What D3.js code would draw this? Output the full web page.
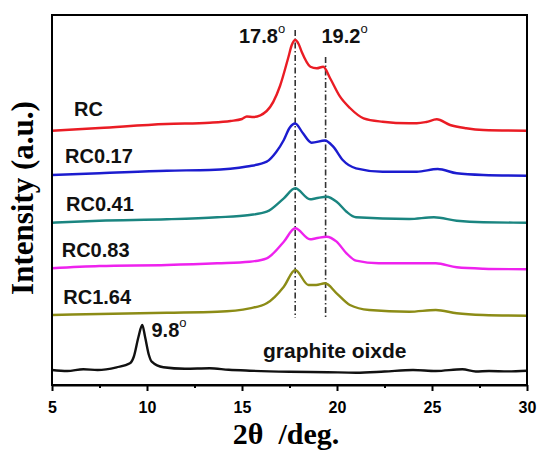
<!DOCTYPE html>
<html>
<head>
<meta charset="utf-8">
<script src="https://cdn.jsdelivr.net/npm/d3@7"></script>
<style>
  body { margin: 0; background: #fff; }
  text { font-family: Arial, "Liberation Sans", sans-serif; font-weight: bold; }
</style>
</head>
<body>
<div id="chart"></div>
<script>
// 2theta sample positions and intensities (a.u.)
const rcTheta = [5, 7.5, 11, 13.3, 14.4, 15, 15.25, 15.6, 16.3, 17, 17.43, 17.62, 17.8, 17.98, 18.14, 18.6, 18.93, 19.28, 19.63, 20.16, 20.68, 21.4, 22.4, 23.8, 24.2, 24.7, 25.25, 25.95, 26.8, 27.7, 30]
const rcValue = [254.3, 257, 261, 262.3, 264, 266, 268.5, 268, 274, 299, 327, 340, 345, 341, 333.3, 318.3, 316.7, 318.3, 307, 288.3, 277, 266.7, 263.3, 261.7, 261.7, 263, 265.7, 260, 256.7, 255, 254.3]

const rc017Theta = [5, 7.5, 11.05, 13.3, 15.26, 16.3, 16.8, 17.2, 17.5, 17.8, 18.2, 18.66, 19.37, 19.8, 20.3, 21, 22.4, 24.2, 25.3, 26.3, 27.7, 30]
const rc017Value = [210, 211.7, 214.3, 215, 218.5, 223.3, 233, 245, 257, 261.5, 252, 242.3, 244.5, 238.3, 225, 216.7, 213.3, 213.3, 216, 211.7, 210, 209.3]

const rc041Theta = [5, 7.5, 11.05, 13.7, 15.4, 16.3, 17.2, 17.8, 18.58, 18.9, 19.46, 19.98, 20.5, 21, 23.8, 25.1, 26.3, 27.7, 30]
const rc041Value = [162.3, 164.3, 165.7, 167.7, 170, 173.3, 186.7, 196.7, 185.7, 186.7, 188.3, 183.3, 173.3, 167.7, 166, 167.7, 164.3, 162.7, 162.3]

const rc083Theta = [5, 7.5, 11.05, 13.7, 15.4, 16.3, 17.2, 17.8, 18.58, 18.9, 19.46, 19.98, 20.5, 21, 22.2, 25.2, 26.3, 27.7, 30]
const rc083Value = [116.7, 119, 120, 121.7, 123.3, 126.7, 143.3, 156.7, 145.7, 146.7, 148.3, 143.3, 131.7, 124.3, 121.7, 121.7, 117.7, 116.3, 115.7]

const rc164Theta = [5, 7.5, 11.05, 13.7, 15.4, 16.3, 17.2, 17.8, 18.5, 18.9, 19.37, 19.98, 20.68, 21.7, 23.8, 25.2, 26.3, 27.7, 30]
const rc164Value = [70, 71, 72.3, 73.3, 76.7, 81.7, 98.3, 115, 100, 100, 101.7, 91.7, 80, 75, 73.3, 75, 71.7, 70, 69.3]

const goTheta = [5, 5.8, 6.65, 7.4, 8.4, 9.1, 9.3, 9.55, 9.75, 9.9, 10.1, 10.25, 10.86, 12, 13.3, 14.3, 15.4, 17.5, 19.5, 21, 22.5, 24, 25.2, 26.6, 27.3, 28, 29, 30]
const goValue = [15, 14, 15.7, 15, 17.7, 21.7, 28, 48, 60, 48, 30, 23.3, 17.7, 16.2, 16.7, 15.2, 14.3, 13.3, 12.8, 12.3, 13.5, 15, 14, 15.7, 13.5, 14, 13.6, 14.3]

const seriesNames = ['RC', 'RC0.17', 'RC0.41', 'RC0.83', 'RC1.64', 'graphite oixde']
const seriesColors = ['#ea1c24', '#1c1ccf', '#1a8580', '#ee22ee', '#8c8c16', '#111111']
const seriesTheta = [rcTheta, rc017Theta, rc041Theta, rc083Theta, rc164Theta, goTheta]
const seriesValue = [rcValue, rc017Value, rc041Value, rc083Value, rc164Value, goValue]

const xTicks = [5, 10, 15, 20, 25, 30]
const xMinorTicks = [7.5, 12.5, 17.5, 22.5, 27.5]

// peak marker lines: where they are drawn, and how high they reach
const peakLineTheta = [17.8, 19.4]
const peakLineTop = [355, 328]
const peakLineBottom = 67

const width = 541
const height = 451
const margin = {top: 15, right: 14, bottom: 66, left: 52}

const svg = d3.select('#chart').append('svg')
    .attr('width', width)
    .attr('height', height)

svg.append('rect').attr('width', width).attr('height', height).attr('fill', '#fff')

const x = d3.scaleLinear().domain([5, 30]).range([margin.left, width - margin.right])
const y = d3.scaleLinear().domain([0, 370]).range([height - margin.bottom, margin.top])

const line = d3.line()
    .x(d => x(d[0]))
    .y(d => y(d[1]))
    .curve(d3.curveMonotoneX)

// dash-dot peak lines
peakLineTheta.forEach((t, i) => {
    svg.append('line')
        .attr('x1', x(t)).attr('x2', x(t))
        .attr('y1', y(peakLineTop[i])).attr('y2', y(peakLineBottom))
        .attr('stroke', '#333')
        .attr('stroke-width', 1.6)
        .attr('stroke-dasharray', '6,2.5,1.5,2.5')
})

// curves
seriesNames.forEach((name, i) => {
    const pts = seriesTheta[i].map((t, j) => [t, seriesValue[i][j]])
    svg.append('path')
        .datum(pts)
        .attr('d', line)
        .attr('fill', 'none')
        .attr('stroke', seriesColors[i])
        .attr('stroke-width', 2.4)
        .attr('stroke-linejoin', 'round')
})

// frame
svg.append('rect')
    .attr('x', margin.left).attr('y', margin.top)
    .attr('width', width - margin.right - margin.left)
    .attr('height', height - margin.bottom - margin.top)
    .attr('fill', 'none')
    .attr('stroke', '#000')
    .attr('stroke-width', 2)

// x axis
const xAxis = svg.append('g')
    .attr('transform', `translate(0, ${height - margin.bottom})`)
    .call(d3.axisBottom(x).tickValues(xTicks).tickSize(6).tickPadding(11).tickSizeOuter(0))
xAxis.select('.domain').attr('stroke-width', 2)
xAxis.selectAll('.tick line').attr('stroke-width', 2)
xAxis.selectAll('.tick text').attr('font-size', 16).attr('font-weight', 'bold')
    .attr('font-family', 'Arial, "Liberation Sans", sans-serif').attr('fill', '#000')

svg.append('g')
    .attr('transform', `translate(0, ${height - margin.bottom})`)
    .call(d3.axisBottom(x).tickValues(xMinorTicks).tickSize(3).tickFormat(''))
    .call(g => g.select('.domain').remove())
    .selectAll('.tick line').attr('stroke-width', 2)

// axis titles
svg.append('text')
    .attr('x', 286).attr('y', 444)
    .attr('text-anchor', 'middle')
    .attr('xml:space', 'preserve')
    .style('font-family', '"Times New Roman", "Liberation Serif", serif')
    .attr('font-size', 30)
    .text('2θ  /deg.')

svg.append('text')
    .attr('transform', 'translate(33, 198) rotate(-90)')
    .attr('text-anchor', 'middle')
    .style('font-family', '"Times New Roman", "Liberation Serif", serif')
    .attr('font-size', 31)
    .text('Intensity (a.u.)')

// series labels
const labelPos = [[74, 116], [65, 162.7], [66, 210.7], [61.7, 257.3], [63.3, 304], [263, 358]]
seriesNames.forEach((name, i) => {
    svg.append('text')
        .attr('x', labelPos[i][0]).attr('y', labelPos[i][1])
        .attr('font-size', i === 5 ? 21 : 20)
        .attr('fill', '#111')
        .text(name)
})

// peak labels with degree marks
function degLabel (px, py, txt) {
    const t = svg.append('text').attr('x', px).attr('y', py).attr('font-size', 20).attr('fill', '#111')
    t.append('tspan').text(txt)
    t.append('tspan').attr('dy', -10).attr('font-size', 13).attr('font-weight', 'normal').text('o')
}
degLabel(239, 43, '17.8')
degLabel(321.5, 43, '19.2')
degLabel(151.5, 336.5, '9.8')
</script>
</body>
</html>
